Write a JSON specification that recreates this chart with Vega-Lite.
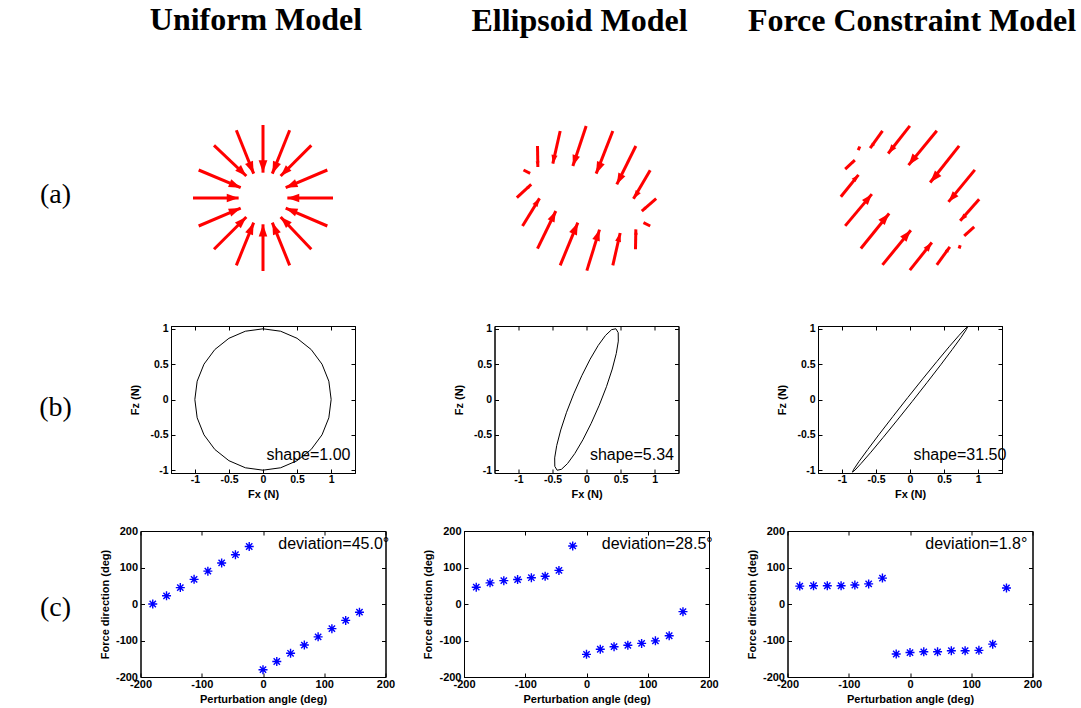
{
  "$schema": "https://vega.github.io/schema/vega-lite/v6.json",
  "background": "white",
  "padding": {"left": 39, "top": 4, "right": 5, "bottom": 0},
  "autosize": {"type": "pad"},
  "config": {
    "view": {"stroke": "black", "strokeWidth": 1},
    "font": "Liberation Sans",
    "locale": {"number": {"decimal": ".", "thousands": ",", "grouping": [3], "currency": ["$", ""], "minus": "-"}},
    "title": {"font": "Liberation Serif", "fontSize": 32, "fontWeight": "bold", "color": "black", "frame": "group", "baseline": "alphabetic", "offset": 86},
    "axis": {"grid": false, "domainColor": "black", "tickColor": "black", "labelColor": "black", "titleColor": "black",
      "labelFont": "Liberation Sans", "titleFont": "Liberation Sans", "labelFontWeight": "bold", "titleFontWeight": "bold",
      "labelFontSize": 11, "titleFontSize": 11, "tickSize": -4, "labelPadding": 6, "labelFlush": false, "labelOverlap": false, "labelBound": false,
      "domainWidth": 1, "tickWidth": 1}
  },
  "datasets": {
    "uniform": [
      {"theta": -180, "dir": 0, "x0": -1.0, "y0": 0, "x1": -0.348, "y1": 0, "mag": 0.652},
      {"theta": -157.5, "dir": 22.5, "x0": -0.919, "y0": -0.4, "x1": -0.319, "y1": -0.143, "mag": 0.653},
      {"theta": -135, "dir": 45, "x0": -0.7, "y0": -0.733, "x1": -0.238, "y1": -0.271, "mag": 0.653},
      {"theta": -112.5, "dir": 67.5, "x0": -0.381, "y0": -0.962, "x1": -0.133, "y1": -0.352, "mag": 0.658},
      {"theta": -90, "dir": 90, "x0": 0, "y0": -1.043, "x1": 0, "y1": -0.376, "mag": 0.667},
      {"theta": -67.5, "dir": 112.5, "x0": 0.381, "y0": -0.962, "x1": 0.133, "y1": -0.352, "mag": 0.658},
      {"theta": -45, "dir": 135, "x0": 0.69, "y0": -0.733, "x1": 0.252, "y1": -0.271, "mag": 0.637},
      {"theta": -22.5, "dir": 157.5, "x0": 0.919, "y0": -0.4, "x1": 0.324, "y1": -0.143, "mag": 0.648},
      {"theta": 0, "dir": -180, "x0": 1.0, "y0": 0, "x1": 0.348, "y1": 0, "mag": 0.652},
      {"theta": 22.5, "dir": -157.5, "x0": 0.919, "y0": 0.4, "x1": 0.324, "y1": 0.148, "mag": 0.648},
      {"theta": 45, "dir": -135, "x0": 0.69, "y0": 0.752, "x1": 0.252, "y1": 0.314, "mag": 0.62},
      {"theta": 67.5, "dir": -112.5, "x0": 0.381, "y0": 0.967, "x1": 0.133, "y1": 0.348, "mag": 0.667},
      {"theta": 90, "dir": -90, "x0": 0, "y0": 1.043, "x1": 0, "y1": 0.362, "mag": 0.681},
      {"theta": 112.5, "dir": -67.5, "x0": -0.381, "y0": 0.967, "x1": -0.133, "y1": 0.348, "mag": 0.667},
      {"theta": 135, "dir": -45, "x0": -0.7, "y0": 0.752, "x1": -0.238, "y1": 0.314, "mag": 0.637},
      {"theta": 157.5, "dir": -22.5, "x0": -0.919, "y0": 0.4, "x1": -0.319, "y1": 0.148, "mag": 0.651}
    ],
    "ellipsoid": [
      {"theta": -180, "dir": 46, "x0": -0.995, "y0": 0.005, "x1": -0.79, "y1": 0.195, "mag": 0.28},
      {"theta": -157.5, "dir": 58, "x0": -0.914, "y0": -0.4, "x1": -0.671, "y1": -0.005, "mag": 0.464},
      {"theta": -135, "dir": 64, "x0": -0.7, "y0": -0.724, "x1": -0.438, "y1": -0.186, "mag": 0.598},
      {"theta": -112.5, "dir": 67, "x0": -0.376, "y0": -0.962, "x1": -0.124, "y1": -0.352, "mag": 0.66},
      {"theta": -90, "dir": 72, "x0": 0.005, "y0": -1.038, "x1": 0.186, "y1": -0.452, "mag": 0.613},
      {"theta": -67.5, "dir": 76, "x0": 0.376, "y0": -0.962, "x1": 0.481, "y1": -0.5, "mag": 0.474},
      {"theta": -45, "dir": 92, "x0": 0.7, "y0": -0.733, "x1": 0.705, "y1": -0.448, "mag": 0.285},
      {"theta": -22.5, "dir": 159, "x0": 0.91, "y0": -0.4, "x1": 0.814, "y1": -0.352, "mag": 0.107},
      {"theta": 0, "dir": -138, "x0": 0.995, "y0": -0.01, "x1": 0.79, "y1": -0.186, "mag": 0.27},
      {"theta": 22.5, "dir": -124, "x0": 0.91, "y0": 0.395, "x1": 0.671, "y1": -0.01, "mag": 0.47},
      {"theta": 45, "dir": -117, "x0": 0.705, "y0": 0.743, "x1": 0.433, "y1": 0.195, "mag": 0.612},
      {"theta": 67.5, "dir": -113, "x0": 0.376, "y0": 0.957, "x1": 0.138, "y1": 0.348, "mag": 0.654},
      {"theta": 90, "dir": -108, "x0": -0.005, "y0": 1.029, "x1": -0.195, "y1": 0.457, "mag": 0.603},
      {"theta": 112.5, "dir": -101, "x0": -0.376, "y0": 0.957, "x1": -0.481, "y1": 0.49, "mag": 0.479},
      {"theta": 135, "dir": -87, "x0": -0.7, "y0": 0.743, "x1": -0.695, "y1": 0.443, "mag": 0.3},
      {"theta": 157.5, "dir": -21, "x0": -0.9, "y0": 0.4, "x1": -0.805, "y1": 0.352, "mag": 0.106}
    ],
    "force": [
      {"theta": -180, "dir": 49, "x0": -0.988, "y0": 0.017, "x1": -0.736, "y1": 0.331, "mag": 0.403},
      {"theta": -157.5, "dir": 50, "x0": -0.926, "y0": -0.398, "x1": -0.545, "y1": 0.055, "mag": 0.592},
      {"theta": -135, "dir": 50, "x0": -0.702, "y0": -0.721, "x1": -0.298, "y1": -0.221, "mag": 0.643},
      {"theta": -112.5, "dir": 50, "x0": -0.393, "y0": -0.955, "x1": 0.012, "y1": -0.46, "mag": 0.64},
      {"theta": -90, "dir": 52, "x0": -0.002, "y0": -1.031, "x1": 0.312, "y1": -0.636, "mag": 0.504},
      {"theta": -67.5, "dir": 55, "x0": 0.383, "y0": -0.955, "x1": 0.569, "y1": -0.698, "mag": 0.317},
      {"theta": -45, "dir": 71, "x0": 0.702, "y0": -0.721, "x1": 0.717, "y1": -0.674, "mag": 0.049},
      {"theta": -22.5, "dir": -137, "x0": 0.917, "y0": -0.412, "x1": 0.774, "y1": -0.54, "mag": 0.192},
      {"theta": 0, "dir": -133, "x0": 0.988, "y0": -0.017, "x1": 0.717, "y1": -0.326, "mag": 0.411},
      {"theta": 22.5, "dir": -131, "x0": 0.926, "y0": 0.402, "x1": 0.55, "y1": -0.055, "mag": 0.592},
      {"theta": 45, "dir": -131, "x0": 0.702, "y0": 0.745, "x1": 0.288, "y1": 0.221, "mag": 0.668},
      {"theta": 67.5, "dir": -128, "x0": 0.383, "y0": 0.96, "x1": -0.021, "y1": 0.469, "mag": 0.636},
      {"theta": 90, "dir": -128, "x0": -0.002, "y0": 1.031, "x1": -0.312, "y1": 0.636, "mag": 0.502},
      {"theta": 112.5, "dir": -127, "x0": -0.393, "y0": 0.96, "x1": -0.569, "y1": 0.712, "mag": 0.304},
      {"theta": 135, "dir": -110, "x0": -0.717, "y0": 0.736, "x1": -0.74, "y1": 0.683, "mag": 0.058},
      {"theta": 157.5, "dir": 44, "x0": -0.926, "y0": 0.412, "x1": -0.788, "y1": 0.54, "mag": 0.188}
    ],
    "circle": [
      {"i": 0, "fx": 1, "fz": 0}, {"i": 1, "fx": 0.966, "fz": 0.259}, {"i": 2, "fx": 0.866, "fz": 0.5}, {"i": 3, "fx": 0.707, "fz": 0.707},
      {"i": 4, "fx": 0.5, "fz": 0.866}, {"i": 5, "fx": 0.259, "fz": 0.966}, {"i": 6, "fx": 0, "fz": 1}, {"i": 7, "fx": -0.259, "fz": 0.966},
      {"i": 8, "fx": -0.5, "fz": 0.866}, {"i": 9, "fx": -0.707, "fz": 0.707}, {"i": 10, "fx": -0.866, "fz": 0.5}, {"i": 11, "fx": -0.966, "fz": 0.259},
      {"i": 12, "fx": -1, "fz": 0}, {"i": 13, "fx": -0.966, "fz": -0.259}, {"i": 14, "fx": -0.866, "fz": -0.5}, {"i": 15, "fx": -0.707, "fz": -0.707},
      {"i": 16, "fx": -0.5, "fz": -0.866}, {"i": 17, "fx": -0.259, "fz": -0.966}, {"i": 18, "fx": 0, "fz": -1}, {"i": 19, "fx": 0.259, "fz": -0.966},
      {"i": 20, "fx": 0.5, "fz": -0.866}, {"i": 21, "fx": 0.707, "fz": -0.707}, {"i": 22, "fx": 0.866, "fz": -0.5}, {"i": 23, "fx": 0.966, "fz": -0.259},
      {"i": 24, "fx": 1, "fz": 0}
    ],
    "ellipse": [
      {"i": 0, "fx": 0.431, "fz": 1.001}, {"i": 1, "fx": 0.368, "fz": 0.988}, {"i": 2, "fx": 0.279, "fz": 0.907}, {"i": 3, "fx": 0.172, "fz": 0.765},
      {"i": 4, "fx": 0.053, "fz": 0.57}, {"i": 5, "fx": -0.069, "fz": 0.337}, {"i": 6, "fx": -0.187, "fz": 0.081}, {"i": 7, "fx": -0.293, "fz": -0.181},
      {"i": 8, "fx": -0.378, "fz": -0.431}, {"i": 9, "fx": -0.437, "fz": -0.651}, {"i": 10, "fx": -0.467, "fz": -0.826}, {"i": 11, "fx": -0.465, "fz": -0.946},
      {"i": 12, "fx": -0.431, "fz": -1.001}, {"i": 13, "fx": -0.368, "fz": -0.988}, {"i": 14, "fx": -0.279, "fz": -0.907}, {"i": 15, "fx": -0.172, "fz": -0.765},
      {"i": 16, "fx": -0.053, "fz": -0.57}, {"i": 17, "fx": 0.069, "fz": -0.337}, {"i": 18, "fx": 0.187, "fz": -0.081}, {"i": 19, "fx": 0.293, "fz": 0.181},
      {"i": 20, "fx": 0.378, "fz": 0.431}, {"i": 21, "fx": 0.437, "fz": 0.651}, {"i": 22, "fx": 0.467, "fz": 0.826}, {"i": 23, "fx": 0.465, "fz": 0.946},
      {"i": 24, "fx": 0.431, "fz": 1.001}
    ],
    "narrow": [
      {"i": 0, "fx": 0.845, "fz": 1.028}, {"i": 1, "fx": 0.808, "fz": 1.0}, {"i": 2, "fx": 0.716, "fz": 0.903}, {"i": 3, "fx": 0.574, "fz": 0.746},
      {"i": 4, "fx": 0.394, "fz": 0.537}, {"i": 5, "fx": 0.187, "fz": 0.292}, {"i": 6, "fx": -0.033, "fz": 0.027}, {"i": 7, "fx": -0.25, "fz": -0.24},
      {"i": 8, "fx": -0.451, "fz": -0.491}, {"i": 9, "fx": -0.62, "fz": -0.708}, {"i": 10, "fx": -0.748, "fz": -0.877}, {"i": 11, "fx": -0.824, "fz": -0.986},
      {"i": 12, "fx": -0.845, "fz": -1.028}, {"i": 13, "fx": -0.808, "fz": -1.0}, {"i": 14, "fx": -0.716, "fz": -0.903}, {"i": 15, "fx": -0.574, "fz": -0.746},
      {"i": 16, "fx": -0.394, "fz": -0.537}, {"i": 17, "fx": -0.187, "fz": -0.292}, {"i": 18, "fx": 0.033, "fz": -0.027}, {"i": 19, "fx": 0.25, "fz": 0.24},
      {"i": 20, "fx": 0.451, "fz": 0.491}, {"i": 21, "fx": 0.62, "fz": 0.708}, {"i": 22, "fx": 0.748, "fz": 0.877}, {"i": 23, "fx": 0.824, "fz": 0.986},
      {"i": 24, "fx": 0.845, "fz": 1.028}
    ]
  },
  "hconcat": [
    {"vconcat": [
      {"width": 9, "height": 140, "view": {"stroke": null}, "data": {"values": [{"lbl": "(a)"}]},
       "mark": {"type": "text", "font": "Liberation Serif", "fontSize": 28, "align": "center", "baseline": "middle", "color": "black", "dy": -3},
       "encoding": {"text": {"field": "lbl"}}},
      {"width": 9, "height": 147, "view": {"stroke": null}, "data": {"values": [{"lbl": "(b)"}]},
       "mark": {"type": "text", "font": "Liberation Serif", "fontSize": 28, "align": "center", "baseline": "middle", "color": "black", "dy": 8},
       "encoding": {"text": {"field": "lbl"}}},
      {"width": 9, "height": 146, "view": {"stroke": null}, "data": {"values": [{"lbl": "(c)"}]},
       "mark": {"type": "text", "font": "Liberation Serif", "fontSize": 28, "align": "center", "baseline": "middle", "color": "black", "dy": 4},
       "encoding": {"text": {"field": "lbl"}}}
     ], "spacing": 58, "bounds": "flush"},

    {"vconcat": [
      {"width": 140, "height": 140, "view": {"stroke": null}, "title": {"text": "Uniform Model", "dx": -7},
       "data": {"name": "uniform"},
       "layer": [
        {"mark": {"type": "rule", "color": "#ff0000", "strokeWidth": 3},
         "encoding": {"x": {"field": "x0", "type": "quantitative", "scale": {"domain": [-1, 1], "nice": false, "zero": false}, "axis": null},
          "y": {"field": "y0", "type": "quantitative", "scale": {"domain": [-1, 1], "nice": false, "zero": false}, "axis": null},
          "x2": {"field": "x1"}, "y2": {"field": "y1"}}},
        {"mark": {"type": "point", "shape": "M0,0L-0.7,2L0.7,2Z", "filled": true, "color": "#ff0000", "opacity": 1},
         "encoding": {"x": {"field": "x1", "type": "quantitative"}, "y": {"field": "y1", "type": "quantitative"},
          "angle": {"field": "dir", "type": "quantitative", "scale": {"domain": [-180, 180], "range": [270, -90]}},
          "size": {"field": "mag", "type": "quantitative", "scale": {"type": "pow", "exponent": 2, "domain": [0, 0.67], "range": [0, 150]}, "legend": null}}}
       ]},
      {"width": 184, "height": 147,
       "layer": [
        {"data": {"name": "circle"}, "mark": {"type": "line", "color": "black", "strokeWidth": 1, "clip": true},
         "encoding": {"x": {"field": "fx", "type": "quantitative", "scale": {"domain": [-1.35, 1.35], "nice": false, "zero": false}, "axis": {"values": [-1, -0.5, 0, 0.5, 1], "format": "~g", "title": "Fx (N)", "labelFontSize": 10.5, "labelPadding": 5, "titlePadding": 4}},
          "y": {"field": "fz", "type": "quantitative", "scale": {"domain": [-1.04, 1.04], "nice": false, "zero": false}, "axis": {"values": [-1, -0.5, 0, 0.5, 1], "format": "~g", "title": "Fz (N)", "labelFontSize": 10.5, "labelPadding": 7, "titlePadding": 9}},
          "order": {"field": "i", "type": "quantitative"}}},
        {"data": {"values": [{"t": "shape=1.00"}]}, "mark": {"type": "text", "align": "left", "baseline": "middle", "fontSize": 16, "font": "Liberation Sans", "color": "black"},
         "encoding": {"x": {"datum": 0.05, "type": "quantitative", "axis": {"orient": "top", "values": [-1, -0.5, 0, 0.5, 1], "labels": false, "title": null}},
          "y": {"datum": -0.78, "type": "quantitative", "axis": {"orient": "right", "values": [-1, -0.5, 0, 0.5, 1], "labels": false, "title": null}},
          "text": {"field": "t"}}}
       ],
       "resolve": {"axis": {"x": "independent", "y": "independent"}}},
      {"width": 245, "height": 146,
       "layer": [
        {"data": {"name": "uniform"}, "mark": {"type": "point", "shape": "M-1,0L1,0M0,-1L0,1M-0.7,-0.7L0.7,0.7M-0.7,0.7L0.7,-0.7", "filled": false, "color": "#0000ff", "strokeWidth": 1.4, "size": 81, "opacity": 1},
         "encoding": {"x": {"field": "theta", "type": "quantitative", "scale": {"domain": [-200, 200], "nice": false, "zero": false}, "axis": {"values": [-200, -100, 0, 100, 200], "format": "d", "title": "Perturbation angle (deg)", "labelPadding": 5, "titlePadding": 4}},
          "y": {"field": "dir", "type": "quantitative", "scale": {"domain": [-200, 200], "nice": false, "zero": false}, "axis": {"values": [-200, -100, 0, 100, 200], "format": "d", "title": "Force direction (deg)", "labelPadding": 7, "titlePadding": 5}}}},
        {"data": {"values": [{"t": "deviation=45.0°"}]}, "mark": {"type": "text", "align": "left", "baseline": "middle", "fontSize": 16, "font": "Liberation Sans", "color": "black"},
         "encoding": {"x": {"datum": 25, "type": "quantitative", "axis": {"orient": "top", "values": [-200, -100, 0, 100, 200], "labels": false, "title": null}},
          "y": {"datum": 165, "type": "quantitative", "axis": {"orient": "right", "values": [-200, -100, 0, 100, 200], "labels": false, "title": null}},
          "text": {"field": "t"}}}
       ],
       "resolve": {"axis": {"x": "independent", "y": "independent"}}}
     ], "spacing": 58, "bounds": "flush", "center": true},

    {"vconcat": [
      {"width": 140, "height": 140, "view": {"stroke": null}, "title": {"text": "Ellipsoid Model", "dx": -7},
       "data": {"name": "ellipsoid"},
       "layer": [
        {"mark": {"type": "rule", "color": "#ff0000", "strokeWidth": 3},
         "encoding": {"x": {"field": "x0", "type": "quantitative", "scale": {"domain": [-1, 1], "nice": false, "zero": false}, "axis": null},
          "y": {"field": "y0", "type": "quantitative", "scale": {"domain": [-1, 1], "nice": false, "zero": false}, "axis": null},
          "x2": {"field": "x1"}, "y2": {"field": "y1"}}},
        {"mark": {"type": "point", "shape": "M0,0L-0.7,2L0.7,2Z", "filled": true, "color": "#ff0000", "opacity": 1},
         "encoding": {"x": {"field": "x1", "type": "quantitative"}, "y": {"field": "y1", "type": "quantitative"},
          "angle": {"field": "dir", "type": "quantitative", "scale": {"domain": [-180, 180], "range": [270, -90]}},
          "size": {"field": "mag", "type": "quantitative", "scale": {"type": "pow", "exponent": 2, "domain": [0, 0.67], "range": [0, 150]}, "legend": null}}}
       ]},
      {"width": 184, "height": 147,
       "layer": [
        {"data": {"name": "ellipse"}, "mark": {"type": "line", "color": "black", "strokeWidth": 1, "clip": true},
         "encoding": {"x": {"field": "fx", "type": "quantitative", "scale": {"domain": [-1.35, 1.35], "nice": false, "zero": false}, "axis": {"values": [-1, -0.5, 0, 0.5, 1], "format": "~g", "title": "Fx (N)", "labelFontSize": 10.5, "labelPadding": 5, "titlePadding": 4}},
          "y": {"field": "fz", "type": "quantitative", "scale": {"domain": [-1.04, 1.04], "nice": false, "zero": false}, "axis": {"values": [-1, -0.5, 0, 0.5, 1], "format": "~g", "title": "Fz (N)", "labelFontSize": 10.5, "labelPadding": 7, "titlePadding": 9}},
          "order": {"field": "i", "type": "quantitative"}}},
        {"data": {"values": [{"t": "shape=5.34"}]}, "mark": {"type": "text", "align": "left", "baseline": "middle", "fontSize": 16, "font": "Liberation Sans", "color": "black"},
         "encoding": {"x": {"datum": 0.05, "type": "quantitative", "axis": {"orient": "top", "values": [-1, -0.5, 0, 0.5, 1], "labels": false, "title": null}},
          "y": {"datum": -0.78, "type": "quantitative", "axis": {"orient": "right", "values": [-1, -0.5, 0, 0.5, 1], "labels": false, "title": null}},
          "text": {"field": "t"}}}
       ],
       "resolve": {"axis": {"x": "independent", "y": "independent"}}},
      {"width": 245, "height": 146,
       "layer": [
        {"data": {"name": "ellipsoid"}, "mark": {"type": "point", "shape": "M-1,0L1,0M0,-1L0,1M-0.7,-0.7L0.7,0.7M-0.7,0.7L0.7,-0.7", "filled": false, "color": "#0000ff", "strokeWidth": 1.4, "size": 81, "opacity": 1},
         "encoding": {"x": {"field": "theta", "type": "quantitative", "scale": {"domain": [-200, 200], "nice": false, "zero": false}, "axis": {"values": [-200, -100, 0, 100, 200], "format": "d", "title": "Perturbation angle (deg)", "labelPadding": 5, "titlePadding": 4}},
          "y": {"field": "dir", "type": "quantitative", "scale": {"domain": [-200, 200], "nice": false, "zero": false}, "axis": {"values": [-200, -100, 0, 100, 200], "format": "d", "title": "Force direction (deg)", "labelPadding": 7, "titlePadding": 5}}}},
        {"data": {"values": [{"t": "deviation=28.5°"}]}, "mark": {"type": "text", "align": "left", "baseline": "middle", "fontSize": 16, "font": "Liberation Sans", "color": "black"},
         "encoding": {"x": {"datum": 25, "type": "quantitative", "axis": {"orient": "top", "values": [-200, -100, 0, 100, 200], "labels": false, "title": null}},
          "y": {"datum": 165, "type": "quantitative", "axis": {"orient": "right", "values": [-200, -100, 0, 100, 200], "labels": false, "title": null}},
          "text": {"field": "t"}}}
       ],
       "resolve": {"axis": {"x": "independent", "y": "independent"}}}
     ], "spacing": 58, "bounds": "flush", "center": true},

    {"vconcat": [
      {"width": 140, "height": 140, "view": {"stroke": null}, "title": {"text": "Force Constraint Model", "dx": 2},
       "data": {"name": "force"},
       "layer": [
        {"mark": {"type": "rule", "color": "#ff0000", "strokeWidth": 3},
         "encoding": {"x": {"field": "x0", "type": "quantitative", "scale": {"domain": [-1, 1], "nice": false, "zero": false}, "axis": null},
          "y": {"field": "y0", "type": "quantitative", "scale": {"domain": [-1, 1], "nice": false, "zero": false}, "axis": null},
          "x2": {"field": "x1"}, "y2": {"field": "y1"}}},
        {"mark": {"type": "point", "shape": "M0,0L-0.7,2L0.7,2Z", "filled": true, "color": "#ff0000", "opacity": 1},
         "encoding": {"x": {"field": "x1", "type": "quantitative"}, "y": {"field": "y1", "type": "quantitative"},
          "angle": {"field": "dir", "type": "quantitative", "scale": {"domain": [-180, 180], "range": [270, -90]}},
          "size": {"field": "mag", "type": "quantitative", "scale": {"type": "pow", "exponent": 2, "domain": [0, 0.67], "range": [0, 150]}, "legend": null}}}
       ]},
      {"width": 184, "height": 147,
       "layer": [
        {"data": {"name": "narrow"}, "mark": {"type": "line", "color": "black", "strokeWidth": 1, "clip": true},
         "encoding": {"x": {"field": "fx", "type": "quantitative", "scale": {"domain": [-1.35, 1.35], "nice": false, "zero": false}, "axis": {"values": [-1, -0.5, 0, 0.5, 1], "format": "~g", "title": "Fx (N)", "labelFontSize": 10.5, "labelPadding": 5, "titlePadding": 4}},
          "y": {"field": "fz", "type": "quantitative", "scale": {"domain": [-1.04, 1.04], "nice": false, "zero": false}, "axis": {"values": [-1, -0.5, 0, 0.5, 1], "format": "~g", "title": "Fz (N)", "labelFontSize": 10.5, "labelPadding": 7, "titlePadding": 9}},
          "order": {"field": "i", "type": "quantitative"}}},
        {"data": {"values": [{"t": "shape=31.50"}]}, "mark": {"type": "text", "align": "left", "baseline": "middle", "fontSize": 16, "font": "Liberation Sans", "color": "black"},
         "encoding": {"x": {"datum": 0.05, "type": "quantitative", "axis": {"orient": "top", "values": [-1, -0.5, 0, 0.5, 1], "labels": false, "title": null}},
          "y": {"datum": -0.78, "type": "quantitative", "axis": {"orient": "right", "values": [-1, -0.5, 0, 0.5, 1], "labels": false, "title": null}},
          "text": {"field": "t"}}}
       ],
       "resolve": {"axis": {"x": "independent", "y": "independent"}}},
      {"width": 245, "height": 146,
       "layer": [
        {"data": {"name": "force"}, "mark": {"type": "point", "shape": "M-1,0L1,0M0,-1L0,1M-0.7,-0.7L0.7,0.7M-0.7,0.7L0.7,-0.7", "filled": false, "color": "#0000ff", "strokeWidth": 1.4, "size": 81, "opacity": 1},
         "encoding": {"x": {"field": "theta", "type": "quantitative", "scale": {"domain": [-200, 200], "nice": false, "zero": false}, "axis": {"values": [-200, -100, 0, 100, 200], "format": "d", "title": "Perturbation angle (deg)", "labelPadding": 5, "titlePadding": 4}},
          "y": {"field": "dir", "type": "quantitative", "scale": {"domain": [-200, 200], "nice": false, "zero": false}, "axis": {"values": [-200, -100, 0, 100, 200], "format": "d", "title": "Force direction (deg)", "labelPadding": 7, "titlePadding": 5}}}},
        {"data": {"values": [{"t": "deviation=1.8°"}]}, "mark": {"type": "text", "align": "left", "baseline": "middle", "fontSize": 16, "font": "Liberation Sans", "color": "black"},
         "encoding": {"x": {"datum": 25, "type": "quantitative", "axis": {"orient": "top", "values": [-200, -100, 0, 100, 200], "labels": false, "title": null}},
          "y": {"datum": 165, "type": "quantitative", "axis": {"orient": "right", "values": [-200, -100, 0, 100, 200], "labels": false, "title": null}},
          "text": {"field": "t"}}}
       ],
       "resolve": {"axis": {"x": "independent", "y": "independent"}}}
     ], "spacing": 58, "bounds": "flush", "center": true}
  ],
  "spacing": 26.5
}
